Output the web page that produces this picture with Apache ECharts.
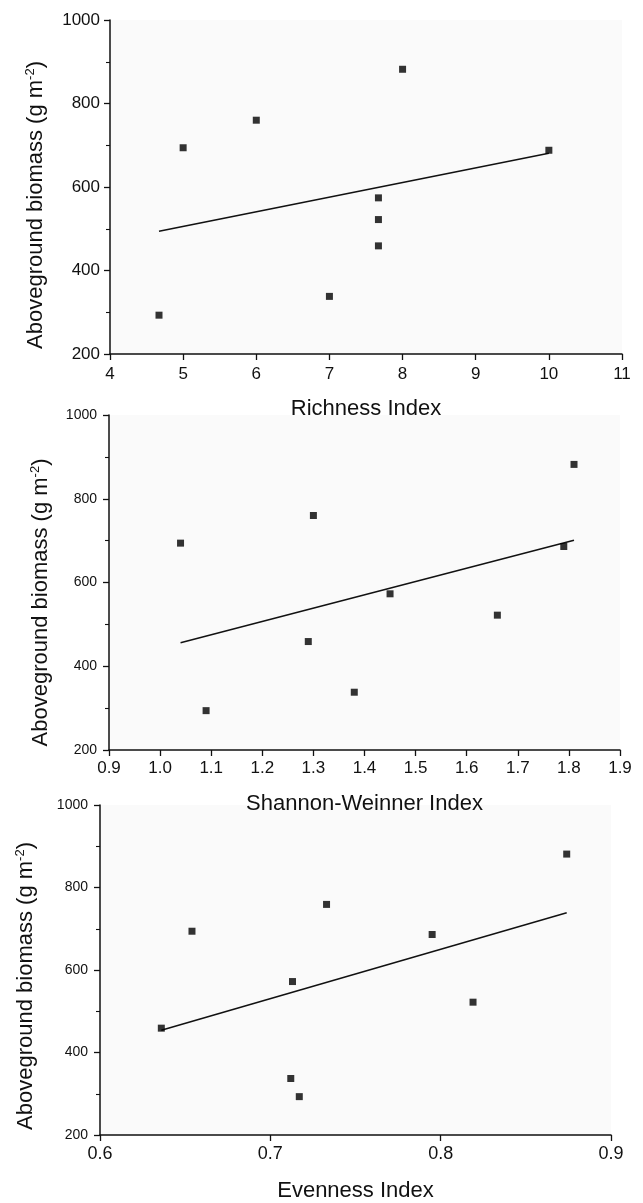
<!DOCTYPE html>
<html>
<head>
<meta charset="utf-8">
<script src="https://cdn.jsdelivr.net/npm/echarts@6/dist/echarts.min.js"></script>
<style>
html,body{margin:0;padding:0;background:#fff;}
#c{width:643px;height:1203px;}
</style>
</head>
<body>
<div id="c"></div>
<script>
// Panel 1: Richness Index
const richX = [4.67, 5, 6, 7, 7.67, 7.67, 7.67, 8, 10];
const biomass1 = [293, 694, 760, 338, 574, 522, 459, 882, 688];
const fit1X = [4.67, 10];
const fit1Y = [494, 681];
// Panel 2: Shannon-Weinner Index
const shannonX = [1.04, 1.09, 1.30, 1.29, 1.38, 1.45, 1.66, 1.79, 1.81];
const biomass2 = [694, 294, 760, 459, 338, 573, 522, 686, 882];
const fit2X = [1.04, 1.81];
const fit2Y = [456, 701];
// Panel 3: Evenness Index
const evenX = [0.636, 0.654, 0.713, 0.712, 0.717, 0.733, 0.795, 0.819, 0.874];
const biomass3 = [459, 694, 572, 337, 293, 759, 686, 522, 881];
const fit3X = [0.636, 0.874];
const fit3Y = [454, 739];

const xNames = ['Richness Index', 'Shannon-Weinner Index', 'Evenness Index'];
const yName = 'Aboveground biomass (g m';
const ySup = '-2';

const FONT = '"Liberation Sans", Arial, sans-serif';
const INK = '#111';

function pairs(xs, ys) { return xs.map((x, i) => [x, ys[i]]); }

const grids = [
  {left: 110, right: 21, top: 20, height: 334},
  {left: 109, right: 23, top: 415, height: 335},
  {left: 100, right: 32, top: 805, height: 334}
];
const xCfg = [
  {min: 4, max: 11, interval: 1, dec: 0, fs: 17, margin: 12, gap: 44},
  {min: 0.9, max: 1.9, interval: 0.1, dec: 1, fs: 17, margin: 10, gap: 43},
  {min: 0.6, max: 0.9, interval: 0.1, dec: 1, fs: 18, margin: 10, gap: 45}
];
const yCfg = [
  {fs: 17, margin: 10, gap: 62, shift: 36},
  {fs: 14, margin: 12, gap: 56, shift: 40},
  {fs: 14, margin: 12, gap: 62, shift: 32}
];

const xAxis = xCfg.map((c, i) => ({
  type: 'value', gridIndex: i, min: c.min, max: c.max, interval: c.interval,
  name: xNames[i], nameLocation: 'middle', nameGap: c.gap,
  nameTextStyle: {fontFamily: FONT, fontSize: 22, color: INK},
  axisLine: {show: true, lineStyle: {color: INK, width: 1.5}},
  axisTick: {show: true, length: 6, lineStyle: {color: INK, width: 1.3}},
  minorTick: {show: false},
  splitLine: {show: false},
  axisLabel: {fontFamily: FONT, fontSize: c.fs, color: INK, margin: c.margin,
    formatter: v => Number(v).toFixed(c.dec)}
}));

const yAxis = yCfg.map((c, i) => ({
  type: 'value', gridIndex: i, min: 200, max: 1000, interval: 200,
  name: '{a|' + yName + '}{sup|' + ySup + '}{a|)}',
  nameLocation: 'middle', nameGap: c.gap, nameRotate: 90,
  nameTextStyle: {
    fontFamily: FONT, fontSize: 22, color: INK,
    padding: [0, c.shift, 0, 0],
    rich: {
      a: {fontFamily: FONT, fontSize: 22, color: INK, lineHeight: 24},
      sup: {fontFamily: FONT, fontSize: 13, color: INK, lineHeight: 13, verticalAlign: 'top'}
    }
  },
  axisLine: {show: true, lineStyle: {color: INK, width: 1.5}},
  axisTick: {show: true, length: 6, lineStyle: {color: INK, width: 1.3}},
  minorTick: {show: true, splitNumber: 2, length: 4, lineStyle: {color: INK, width: 1.1}},
  splitLine: {show: false},
  axisLabel: {fontFamily: FONT, fontSize: c.fs, color: INK, margin: c.margin,
    formatter: v => String(Math.round(v))}
}));

const pts = [pairs(richX, biomass1), pairs(shannonX, biomass2), pairs(evenX, biomass3)];
const fits = [pairs(fit1X, fit1Y), pairs(fit2X, fit2Y), pairs(fit3X, fit3Y)];

const series = [];
for (let i = 0; i < 3; i++) {
  series.push({
    type: 'line', xAxisIndex: i, yAxisIndex: i, data: fits[i],
    showSymbol: false, symbol: 'none', silent: true,
    lineStyle: {color: INK, width: 1.5}, z: 2
  });
  series.push({
    type: 'scatter', xAxisIndex: i, yAxisIndex: i, data: pts[i],
    symbol: 'rect', symbolSize: 7, itemStyle: {color: '#000'}, z: 3
  });
}

const chart = echarts.init(document.getElementById('c'), null, {renderer: 'canvas'});
chart.setOption({
  backgroundColor: '#fff',
  animation: false,
  grid: grids.map(g => Object.assign({containLabel: false, show: true, backgroundColor: '#fafafa', borderWidth: 0}, g)),
  xAxis: xAxis,
  yAxis: yAxis,
  series: series
});
</script>
</body>
</html>
